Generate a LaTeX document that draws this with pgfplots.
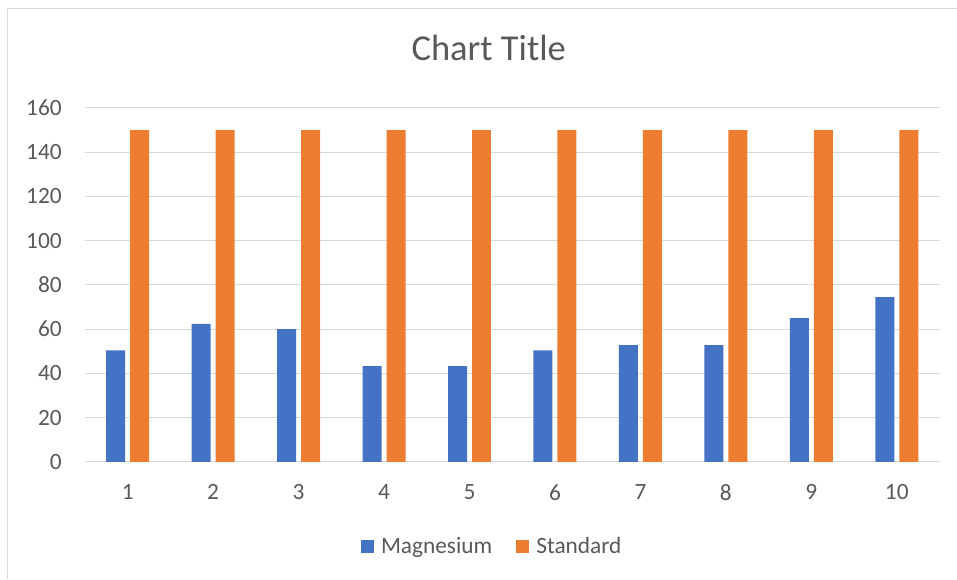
\documentclass[border=0pt]{standalone}
\usepackage{fontspec}
\setmainfont{Carlito}
\usepackage{pgfplots}
\pgfplotsset{compat=1.18}
\definecolor{gridc}{HTML}{D9D9D9}
\definecolor{txt}{HTML}{595959}
\definecolor{mblue}{HTML}{4472C4}
\definecolor{morange}{HTML}{ED7D31}
\begin{document}
\begin{tikzpicture}
\path (-63.75pt,-87.75pt) rectangle (654pt,346.5pt);
\draw[gridc, line width=0.75pt] (-57.75pt,-87.75pt) -- (-57.75pt,339.75pt) -- (654pt,339.75pt);
\begin{axis}[
  at={(0pt,0pt)}, anchor=south west,
  scale only axis, width=641.25pt, height=265.5pt,
  ymin=0, ymax=160, ytick={0,20,...,160},
  xmin=0.5, xmax=10.5, xtick={1,...,10},
  ybar=3.75pt, bar width=14.25pt,
  axis line style={draw=none},
  major tick length=0pt,
  ymajorgrids, grid style={gridc, line width=0.75pt},
  /pgf/number format/assume math mode=true,
  ticklabel style={font=\fontsize{17.5}{20}\selectfont, text=txt},
  yticklabel style={anchor=east, inner sep=0pt, xshift=-17.25pt},
  xticklabel style={anchor=center, inner sep=0pt, yshift=-22.9pt},
  title={Chart Title},
  title style={at={(0.4725,1.148)}, anchor=center, font=\fontsize{27.4}{32}\selectfont, text=txt},
  legend style={at={(0.477,-0.2387)}, anchor=center, draw=none, legend columns=2,
    font=\fontsize{17.5}{20}\selectfont, text=txt,
    /tikz/every even column/.append style={column sep=16pt}},
  legend image code/.code={\fill[#1] (0pt,-4.9pt) rectangle (9.75pt,4.9pt); \path (0pt,0pt) -- (13pt,0pt);},
]
\addplot[fill=mblue, draw=none] coordinates {(1,50.4) (2,62.3) (3,60.0) (4,43.3) (5,43.3) (6,50.4) (7,52.8) (8,52.8) (9,64.9) (10,74.4)};
\addplot[fill=morange, draw=none] coordinates {(1,150) (2,150) (3,150) (4,150) (5,150) (6,150) (7,150) (8,150) (9,150) (10,150)};
\legend{Magnesium, Standard}
\end{axis}
\end{tikzpicture}
\end{document}
